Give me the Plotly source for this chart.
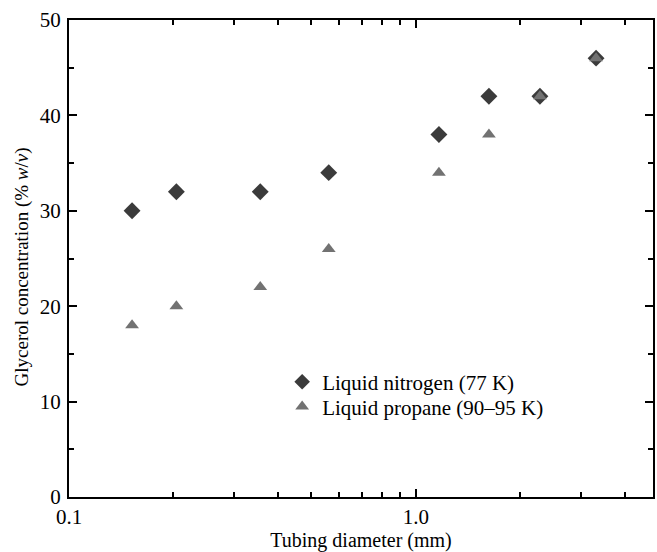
import plotly.graph_objects as go

diameter = [0.152, 0.204, 0.356, 0.561, 1.166, 1.625, 2.28, 3.31]
nitrogen = [30, 32, 32, 34, 38, 42, 42, 46]
propane = [18, 20, 22, 26, 34, 38, 42, 46]

x_tickvals = [0.1, 1.0]
x_ticktext = ["0.1", "1.0"]
x_minor = [0.2, 0.3, 0.4, 0.5, 0.6, 0.7, 0.8, 0.9, 2, 3, 4]
y_tickvals = [0, 10, 20, 30, 40, 50]

font_family = "Liberation Serif"

fig = go.Figure()
fig.add_trace(go.Scatter(
    x=diameter, y=nitrogen, mode="markers", name="Liquid nitrogen (77 K)",
    marker=dict(symbol="diamond", size=13, color="#3b3b3b"),
    legend="legend", showlegend=True,
))
fig.add_trace(go.Scatter(
    x=diameter, y=propane, mode="markers", name="Liquid propane (90\u201395 K)",
    marker=dict(symbol="triangle-up", size=12, color="#727272"),
    legend="legend2", showlegend=True,
))

axis_common = dict(
    showline=True, linecolor="black", linewidth=2, mirror="ticks",
    ticks="inside", tickcolor="black", tickwidth=2, ticklen=8,
    showgrid=False, zeroline=False, automargin=False,
    tickfont=dict(family=font_family, size=21, color="black"),
)

fig.update_xaxes(
    type="log", range=[-1, 0.684],
    tickmode="array", tickvals=x_tickvals, ticktext=x_ticktext,
    minor=dict(tickmode="array", tickvals=x_minor, ticks="inside", ticklen=5,
               tickwidth=2, tickcolor="black", showgrid=False),
    title=dict(text="Tubing diameter (mm)", standoff=4,
               font=dict(family=font_family, size=20, color="black")),
    ticklabelstandoff=0,
    **axis_common,
)
fig.update_yaxes(
    range=[0, 50], tickmode="array", tickvals=y_tickvals,
    minor=dict(dtick=5, ticks="inside", ticklen=5, tickwidth=2,
               tickcolor="black", showgrid=False),
    ticklabelstandoff=2,
    **axis_common,
)

fig.add_annotation(
    text="Glycerol concentration (% <i>w</i>/<i>v</i>)",
    xref="paper", yref="paper", x=-0.0805, y=0.5, yshift=-8,
    xanchor="center", yanchor="middle", textangle=-90, showarrow=False,
    font=dict(family=font_family, size=19, color="black"),
)

legend_common = dict(xanchor="left", yanchor="middle", bgcolor="rgba(0,0,0,0)",
                     font=dict(family=font_family, size=21, color="black"),
                     itemsizing="constant")

fig.update_layout(
    width=657, height=552,
    margin=dict(l=69, r=4, t=20, b=55),
    plot_bgcolor="white", paper_bgcolor="white",
    font=dict(family=font_family, size=20, color="black"),
    showlegend=True,
    legend=dict(x=0.365, y=0.241, **legend_common),
    legend2=dict(x=0.365, y=0.189, **legend_common),
)

fig.write_html("out.html", config={"displayModeBar": False},
               post_script="document.body.style.margin='0';")
